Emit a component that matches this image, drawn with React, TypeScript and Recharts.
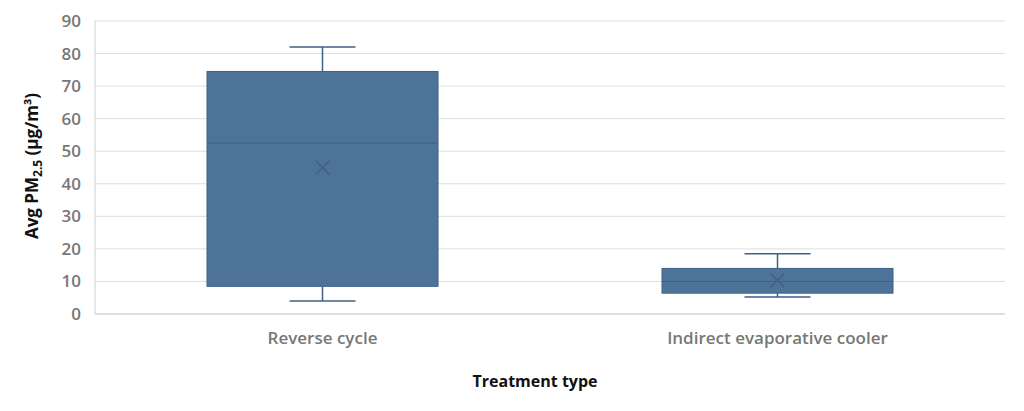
import React from 'react';
import { ComposedChart, Bar, XAxis, YAxis, CartesianGrid } from 'recharts';

const categories = ['Reverse cycle', 'Indirect evaporative cooler'];
const minValues = [4, 5.2];
const q1Values = [8.5, 6.4];
const medianValues = [52.5, 10];
const q3Values = [74.5, 14];
const maxValues = [82, 18.5];
const meanValues = [45, 10.3];
const yTicks = [0, 10, 20, 30, 40, 50, 60, 70, 80, 90];

const data = categories.map((name, i) => ({
  name,
  range: [minValues[i], maxValues[i]],
  min: minValues[i],
  q1: q1Values[i],
  median: medianValues[i],
  q3: q3Values[i],
  max: maxValues[i],
  mean: meanValues[i],
}));

const FILL = '#4e7398';
const STROKE = '#3d6185';

const BoxShape: React.FC<any> = ({ x, y, width, height, payload }) => {
  const { min, max, q1, q3, median, mean } = payload;
  const py = (v: number) => y + ((max - v) / (max - min)) * height;
  const cx = x + width / 2;
  const cap = 66;
  const m = 7;
  return (
    <g>
      <line x1={cx} x2={cx} y1={py(max)} y2={py(q3)} stroke={STROKE} strokeWidth={1.5} />
      <line x1={cx} x2={cx} y1={py(q1)} y2={py(min)} stroke={STROKE} strokeWidth={1.5} />
      <line x1={cx - cap / 2} x2={cx + cap / 2} y1={py(max)} y2={py(max)} stroke={STROKE} strokeWidth={1.5} />
      <line x1={cx - cap / 2} x2={cx + cap / 2} y1={py(min)} y2={py(min)} stroke={STROKE} strokeWidth={1.5} />
      <rect x={x} y={py(q3)} width={width} height={py(q1) - py(q3)} fill={FILL} stroke={STROKE} strokeWidth={1} />
      <line x1={x} x2={x + width} y1={py(median)} y2={py(median)} stroke={STROKE} strokeWidth={1} />
      <line x1={cx - m} x2={cx + m} y1={py(mean) - m} y2={py(mean) + m} stroke={STROKE} strokeWidth={1.5} />
      <line x1={cx - m} x2={cx + m} y1={py(mean) + m} y2={py(mean) - m} stroke={STROKE} strokeWidth={1.5} />
    </g>
  );
};

const YLabel: React.FC<any> = () => (
  <text
    transform="translate(30,158) rotate(-90)"
    textAnchor="middle"
    fontSize={17}
    fontWeight={700}
    fill="#111"
  >
    Avg PM<tspan fontSize={12} dy={4}>2.5</tspan>
    <tspan dy={-4}> (µg/m³)</tspan>
  </text>
);

export default function App() {
  return (
    <div style={{ width: 1008, height: 395, fontFamily: '"Open Sans", sans-serif' }}>
      <ComposedChart width={1008} height={395} data={data} margin={{ top: 13, right: 11, bottom: 59, left: 7 }}>
        <CartesianGrid vertical={false} stroke="#dddddd" />
        <XAxis
          dataKey="name"
          axisLine={{ stroke: '#d0d0d0' }}
          tickLine={false}
          tick={{ fill: '#777777', fontSize: 17, fontWeight: 600 }}
          tickMargin={12}
        />
        <YAxis
          domain={[0, 90]}
          ticks={yTicks}
          width={80}
          axisLine={{ stroke: '#d0d0d0' }}
          tickLine={false}
          tick={{ fill: '#777777', fontSize: 17, fontWeight: 600 }}
          tickMargin={8}
        />
        <Bar dataKey="range" barSize={231} shape={<BoxShape />} isAnimationActive={false} />
        <YLabel />
        <text x={527} y={379} textAnchor="middle" fontSize={16} fontWeight={700} fill="#111">
          Treatment type
        </text>
      </ComposedChart>
    </div>
  );
}
